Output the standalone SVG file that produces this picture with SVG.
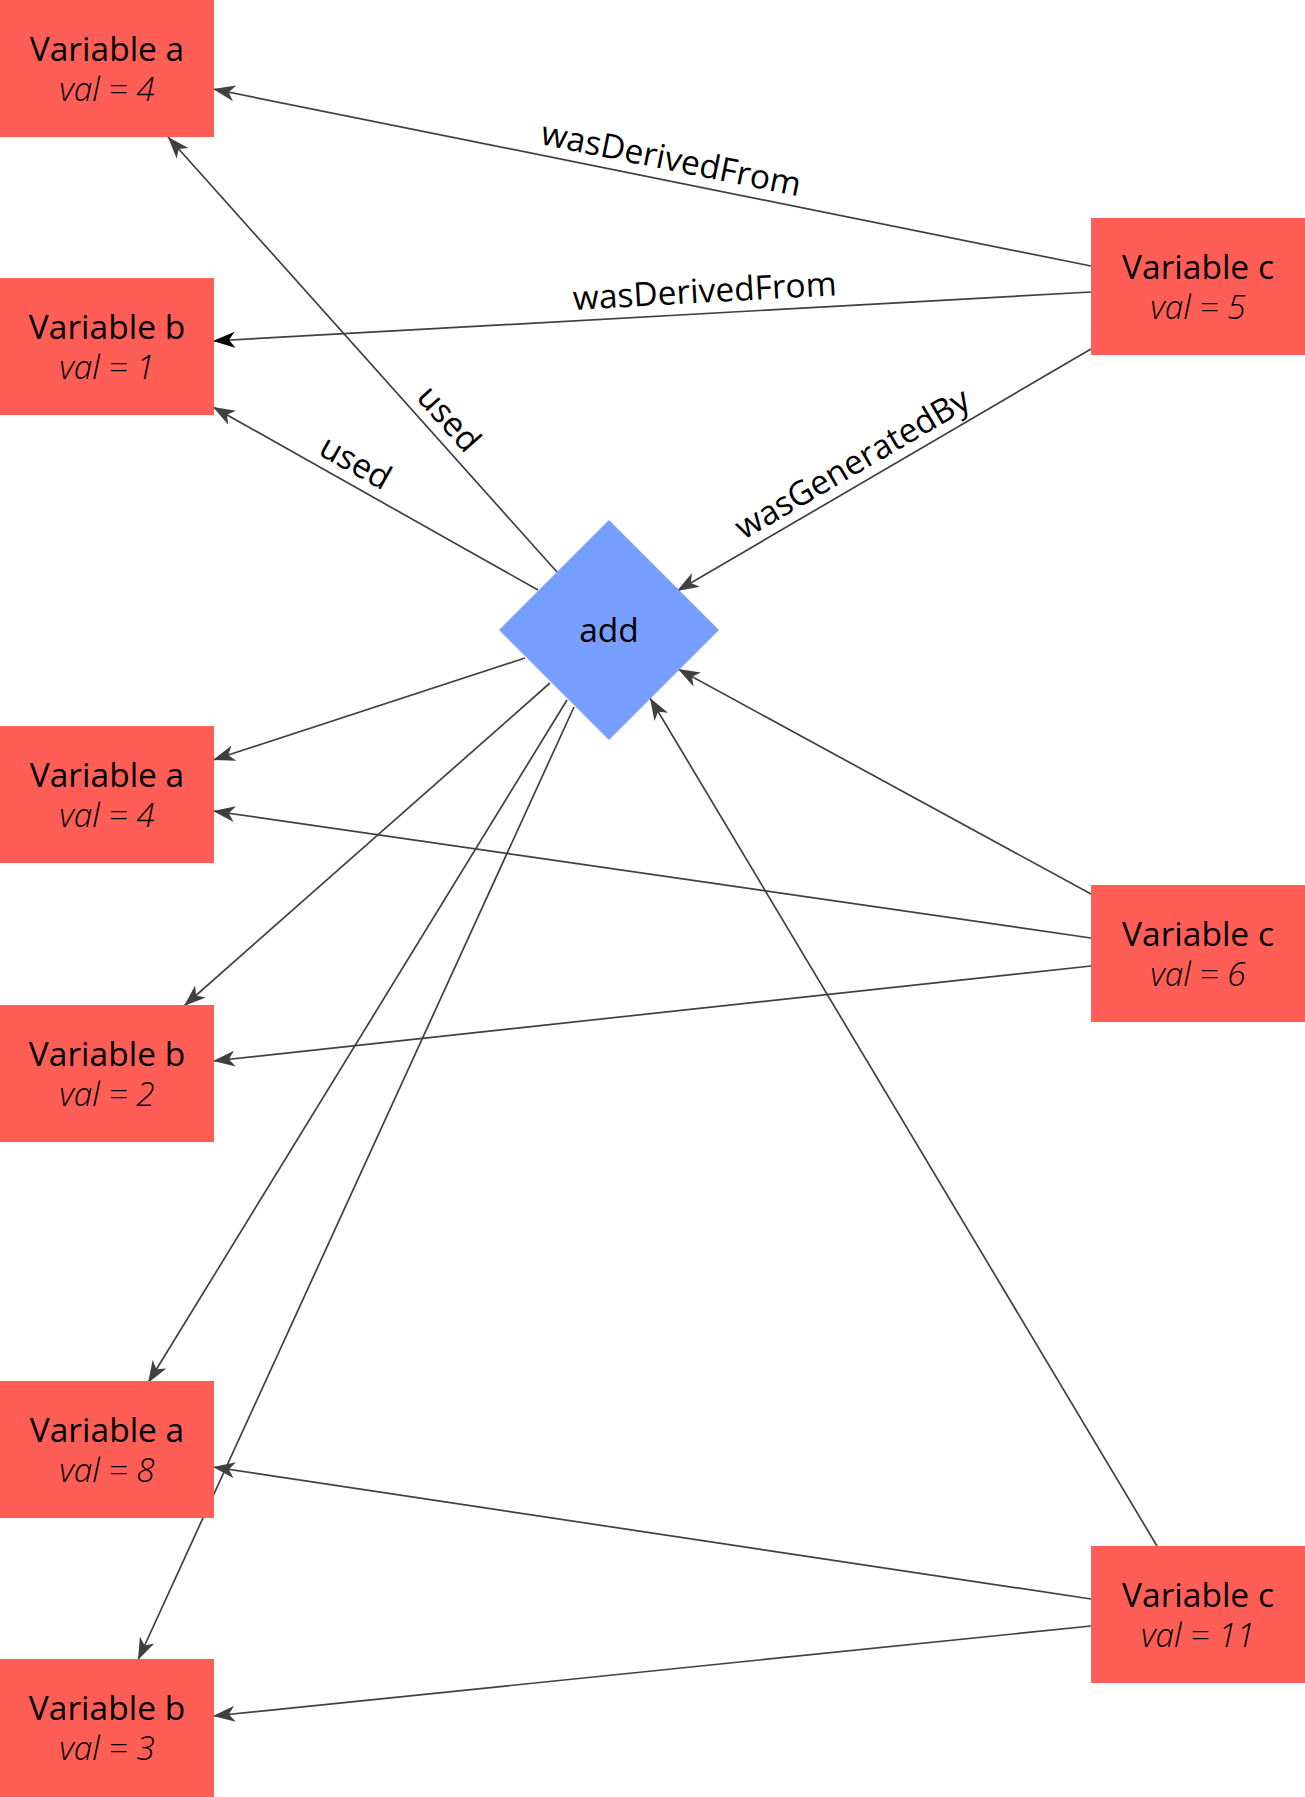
<svg xmlns="http://www.w3.org/2000/svg" width="1305" height="1797" viewBox="0 0 1305 1797">
  <style>
    .var rect { fill: #FF5E57; }
    .proc polygon { fill: #789FFF; }
    text { font-family: "Open Sans", "Liberation Sans", sans-serif; font-size: 33.5px; fill: #000; }
    .name { text-anchor: middle; }
    .val { text-anchor: middle; font-style: italic; font-weight: 300; fill: #000; }
    .lbl { text-anchor: middle; }
    .edge { stroke: #404040; stroke-width: 1.7; fill: none; marker-end: url(#arrow); }
    .edge.dark { marker-end: url(#arrowDark); }
  </style>
  <defs>
    <marker id="arrow" viewBox="0 0 22 16" refX="22" refY="8" markerWidth="22" markerHeight="16" markerUnits="userSpaceOnUse" orient="auto">
      <path d="M22,8 L0,0 L6,8 L0,16 Z" fill="#404040"/>
    </marker>
    <marker id="arrowDark" viewBox="0 0 22 16" refX="22" refY="8" markerWidth="22" markerHeight="16" markerUnits="userSpaceOnUse" orient="auto">
      <path d="M22,8 L0,0 L6,8 L0,16 Z" fill="#000"/>
    </marker>
  </defs>

  <rect width="1305" height="1797" fill="#fff"/>

  <!-- connectors -->
  <g id="connectors">
    <line class="edge" x1="1091" y1="266" x2="213" y2="89"/>
    <line class="edge dark" x1="1091" y1="292" x2="213" y2="341"/>
    <line class="edge" x1="557" y1="572" x2="168" y2="137"/>
    <line class="edge" x1="538" y1="590" x2="213" y2="407"/>
    <line class="edge" x1="1091" y1="349" x2="677" y2="591"/>

    <line class="edge" x1="525" y1="658" x2="213" y2="760"/>
    <line class="edge" x1="1091" y1="938" x2="213" y2="811"/>
    <line class="edge" x1="550" y1="683" x2="184" y2="1006"/>
    <line class="edge" x1="1091" y1="966" x2="213" y2="1061"/>
    <line class="edge" x1="1091" y1="894" x2="678" y2="669"/>

    <line class="edge" x1="567" y1="700" x2="148" y2="1383"/>
    <line class="edge" x1="574" y1="707" x2="138" y2="1660"/>
    <line class="edge" x1="1091" y1="1599" x2="213" y2="1467"/>
    <line class="edge" x1="1091" y1="1626" x2="213" y2="1716"/>
    <line class="edge" x1="1157" y1="1546" x2="650" y2="698"/>

    <!-- edge labels -->
    <text class="lbl" transform="translate(667,180) rotate(11.4)" y="-10">wasDerivedFrom</text>
    <text class="lbl" transform="translate(706,313.5) rotate(-3.2)" y="-11">wasDerivedFrom</text>
    <text class="lbl" transform="translate(433,433) rotate(48.2)" y="-10">used</text>
    <text class="lbl" transform="translate(345,481) rotate(29.5)" y="-10">used</text>
    <text class="lbl" transform="translate(863,482) rotate(-30.3)" y="-10">wasGeneratedBy</text>
  </g>

  <!-- process -->
  <g id="add" class="proc">
    <polygon points="609,520 719,630 609,740 499,630"/>
    <text class="name" x="609" y="642">add</text>
  </g>

  <!-- variables, first step -->
  <g id="a1" class="var">
    <rect x="0" y="0" width="214" height="137"/>
    <text class="name" x="107" y="61">Variable a</text>
    <text class="val" x="107" y="101">val = 4</text>
  </g>
  <g id="b1" class="var">
    <rect x="0" y="278" width="214" height="137"/>
    <text class="name" x="107" y="339">Variable b</text>
    <text class="val" x="107" y="379">val = 1</text>
  </g>
  <g id="c1" class="var">
    <rect x="1091" y="218" width="214" height="137"/>
    <text class="name" x="1198" y="279">Variable c</text>
    <text class="val" x="1198" y="319">val = 5</text>
  </g>

  <!-- variables, second step -->
  <g id="a2" class="var">
    <rect x="0" y="726" width="214" height="137"/>
    <text class="name" x="107" y="787">Variable a</text>
    <text class="val" x="107" y="827">val = 4</text>
  </g>
  <g id="b2" class="var">
    <rect x="0" y="1005" width="214" height="137"/>
    <text class="name" x="107" y="1066">Variable b</text>
    <text class="val" x="107" y="1106">val = 2</text>
  </g>
  <g id="c2" class="var">
    <rect x="1091" y="885" width="214" height="137"/>
    <text class="name" x="1198" y="946">Variable c</text>
    <text class="val" x="1198" y="986">val = 6</text>
  </g>

  <!-- variables, third step -->
  <g id="a3" class="var">
    <rect x="0" y="1381" width="214" height="137"/>
    <text class="name" x="107" y="1442">Variable a</text>
    <text class="val" x="107" y="1482">val = 8</text>
  </g>
  <g id="b3" class="var">
    <rect x="0" y="1659" width="214" height="138"/>
    <text class="name" x="107" y="1720">Variable b</text>
    <text class="val" x="107" y="1760">val = 3</text>
  </g>
  <g id="c3" class="var">
    <rect x="1091" y="1546" width="214" height="137"/>
    <text class="name" x="1198" y="1607">Variable c</text>
    <text class="val" x="1198" y="1647">val = 11</text>
  </g>
</svg>
